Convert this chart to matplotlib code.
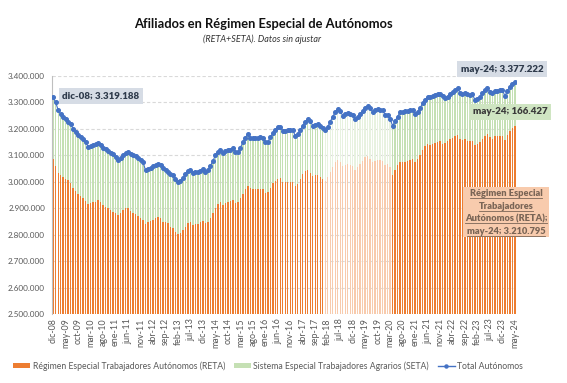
import matplotlib
matplotlib.use('Agg')
import matplotlib.pyplot as plt
from matplotlib.patches import Patch, Rectangle
from matplotlib.lines import Line2D

plt.rcParams['font.family'] = ['Lato', 'DejaVu Sans']

W, H = 567, 383

# ---------------- data ----------------
months_es = ['ene', 'feb', 'mar', 'abr', 'may', 'jun', 'jul', 'ago', 'sep', 'oct', 'nov', 'dic']
categories = (['dic-08'] + [f'{m}-{y:02d}' for y in range(9, 25) for m in months_es])[:186]

# Total autónomos (miles), dic-08 .. may-24
total_k = [
    3319.188,
    3300, 3271, 3255, 3244, 3236, 3227, 3217, 3200, 3189, 3177, 3168, 3161,   # 2009
    3149, 3133, 3135, 3138, 3142, 3147, 3139, 3129, 3123, 3116, 3110, 3104,   # 2010
    3095, 3082, 3091, 3101, 3109, 3114, 3106, 3101, 3096, 3089, 3081, 3074,   # 2011
    3043, 3047, 3053, 3058, 3063, 3068, 3064, 3051, 3045, 3038, 3028, 3026,   # 2012
    3009, 2998, 3003, 3015, 3028, 3041, 3046, 3032, 3036, 3036, 3041, 3048,   # 2013
    3038, 3045, 3060, 3079, 3100, 3111, 3120, 3108, 3116, 3119, 3121, 3127,   # 2014
    3114, 3114, 3129, 3149, 3167, 3181, 3167, 3167, 3167, 3167, 3168, 3166,   # 2015
    3149, 3152, 3168, 3183, 3196, 3206, 3208, 3192, 3193, 3195, 3195, 3195,   # 2016
    3174, 3179, 3196, 3212, 3227, 3237, 3230, 3212, 3215, 3218, 3212, 3205,   # 2017
    3195, 3208, 3227, 3246, 3263, 3274, 3268, 3250, 3255, 3259, 3255, 3253,   # 2018
    3236, 3244, 3255, 3268, 3280, 3287, 3278, 3265, 3270, 3274, 3271, 3270,   # 2019
    3253, 3252, 3237, 3212, 3230, 3246, 3264, 3265, 3266, 3267, 3271, 3271,   # 2020
    3256, 3265, 3278, 3297, 3309, 3322, 3319, 3324, 3328, 3332, 3332, 3324,   # 2021
    3316, 3322, 3332, 3341, 3347, 3353, 3337, 3332, 3335, 3332, 3328, 3331,   # 2022
    3309, 3312, 3322, 3335, 3347, 3353, 3341, 3335, 3344, 3344, 3347, 3347,   # 2023
    3324, 3344, 3360, 3370, 3377.222,                                         # 2024
]

# SETA (miles)
seta_k = [
    232,
    240, 236, 228, 226, 225, 222, 222, 224, 224, 222, 222, 222,
    222, 216, 216, 216, 217, 217, 217, 217, 217, 216, 217, 218,
    214, 209, 208, 208, 209, 214, 216, 218, 219, 219, 218, 220,
    204, 200, 201, 201, 199, 201, 202, 202, 198, 195, 198, 200,
    198, 197, 198, 197, 198, 198, 197, 195, 197, 196, 194, 196,
    195, 198, 198, 198, 198, 196, 198, 196, 197, 197, 194, 196,
    195, 192, 192, 196, 194, 197, 192, 194, 194, 194, 195, 193,
    193, 190, 190, 189, 193, 196, 195, 192, 195, 197, 195, 195,
    189, 186, 185, 184, 186, 192, 196, 190, 190, 194, 193, 195,
    192, 190, 190, 190, 190, 192, 194, 190, 190, 192, 192, 195,
    190, 188, 188, 188, 188, 190, 192, 190, 190, 190, 190, 192,
    188, 186, 183, 186, 184, 184, 188, 189, 190, 188, 189, 186,
    180, 177, 175, 176, 174, 180, 180, 180, 180, 182, 179, 180,
    170, 168, 172, 174, 174, 176, 176, 175, 175, 176, 175, 177,
    170, 168, 170, 172, 172, 174, 173, 172, 172, 172, 172, 174,
    166, 167, 168, 167, 166.427,
]

assert len(categories) == len(total_k) == len(seta_k) == 186

total = [v * 1000 for v in total_k]
seta = [v * 1000 for v in seta_k]
reta = [t - s for t, s in zip(total, seta)]

yticks = [2500000, 2600000, 2700000, 2800000, 2900000, 3000000, 3100000, 3200000, 3300000, 3400000]

# ---------------- style ----------------
ORANGE = '#ED7D31'
GREEN = '#C5E0B4'
ORANGE_PALE = '#F8CBAD'
GREEN_PALE = '#E8F2E0'
BLUE = '#4472C4'
GRAY = '#595959'

def fx(px):
    return px / W

def fy(py):
    return 1 - py / H

fig = plt.figure(figsize=(W / 100, H / 100), dpi=100)
fig.patch.set_facecolor('white')

ax_left, ax_right = 52, 516.4
ax = fig.add_axes([fx(ax_left), fy(314), (ax_right - ax_left) / W, (314 - 76) / H])

x = list(range(len(categories)))
oc = [ORANGE_PALE if 109 <= i <= 135 else ORANGE for i in x]
gc = [GREEN_PALE if 109 <= i <= 135 else GREEN for i in x]

ax.bar(x, reta, width=0.55, color=oc, linewidth=0, zorder=2)
ax.bar(x, seta, bottom=reta, width=0.55, color=gc, linewidth=0, zorder=2)
ax.plot(x, total, color=BLUE, lw=0.8, marker='o', ms=2.6, mec=BLUE, mfc=BLUE, zorder=4)

ax.set_xlim(-0.48, 185.6)
ax.set_ylim(2500000, 3400000)
ax.set_yticks(yticks)
ax.set_yticklabels([f'{v:,.0f}'.replace(',', '.') for v in yticks])
ax.set_xticks(x[::5])
ax.set_xticklabels(categories[::5], rotation=90, va='top', ha='center')
ax.tick_params(axis='x', length=0, pad=3, labelsize=6.4, colors=GRAY)
ax.tick_params(axis='y', length=0, pad=5, labelsize=5.9, colors=GRAY)

ax.grid(axis='y', color='#D9D9D9', linestyle=(0, (3, 2)), linewidth=0.8, zorder=0)
ax.set_axisbelow(True)
for s in ['top', 'right', 'bottom']:
    ax.spines[s].set_visible(False)
ax.spines['left'].set_color('#BFBFBF')
ax.spines['left'].set_linewidth(0.8)

# titles
fig.text(fx(263), fy(24), 'Afiliados en Régimen Especial de Autónomos', ha='center', va='center',
         fontsize=9.3, fontweight='bold', color='#111111')
fig.text(fx(262), fy(39), '(RETA+SETA). Datos sin ajustar', ha='center', va='center',
         fontsize=6.5, style='italic', color='#333333')

# annotation boxes
def label_box(cx, cy, txt, fc, tc):
    fig.text(fx(cx), fy(cy), txt, ha='center', va='center', fontsize=7.0, fontweight='heavy',
             color=tc, bbox=dict(boxstyle='square,pad=0.33', fc=fc, ec='none'), zorder=6)

label_box(101, 96, 'dic-08; 3.319.188', '#D6DCE5', '#2F3B4C')
label_box(502, 69, 'may-24; 3.377.222', '#D6DCE5', '#2F3B4C')
label_box(510, 112, 'may-24; 166.427', '#CFE5C2', '#3A3A3A')

# RETA label (multi-line, underlined)
fig.add_artist(Rectangle((fx(463), fy(237)), (549 - 463) / W, (237 - 187) / H,
                         transform=fig.transFigure, fc='#F8CBAD', ec='none', zorder=5))
reta_lines = ['Régimen Especial', 'Trabajadores', 'Autónomos (RETA);', 'may-24; 3.210.795']
baselines = [196.5, 209.0, 221.5, 234.0]
rtexts = []
for ln, b in zip(reta_lines, baselines):
    t = fig.text(fx(506), fy(b), ln, ha='center', va='baseline', fontsize=6.7, fontweight='heavy',
                 color='#7A6556', zorder=6)
    rtexts.append((t, b))

# legend
handles = [Patch(facecolor=ORANGE, edgecolor='none'),
           Patch(facecolor='#C5E0B4', edgecolor='none'),
           Line2D([], [], color=BLUE, lw=1.0, marker='o', ms=2.2)]
labels = ['Régimen Especial Trabajadores Autónomos (RETA)',
          'Sistema Especial Trabajadores Agrarios (SETA)',
          'Total Autónomos']
leg = fig.legend(handles, labels, loc='center', bbox_to_anchor=(fx(268), fy(366)), ncol=3,
                 frameon=False, fontsize=6.2, handlelength=2.0, handleheight=0.55,
                 handletextpad=0.3, columnspacing=1.0, labelcolor=GRAY)

# underline RETA label lines
fig.canvas.draw()
r = fig.canvas.get_renderer()
for t, b in rtexts:
    bb = t.get_window_extent(r)
    yy = fy(b + 1.6)
    fig.add_artist(Line2D([bb.x0 / W, bb.x1 / W], [yy, yy], transform=fig.transFigure,
                          color='#7A6556', lw=0.6, zorder=7))

fig.savefig('out.png', dpi=100, facecolor='white')
